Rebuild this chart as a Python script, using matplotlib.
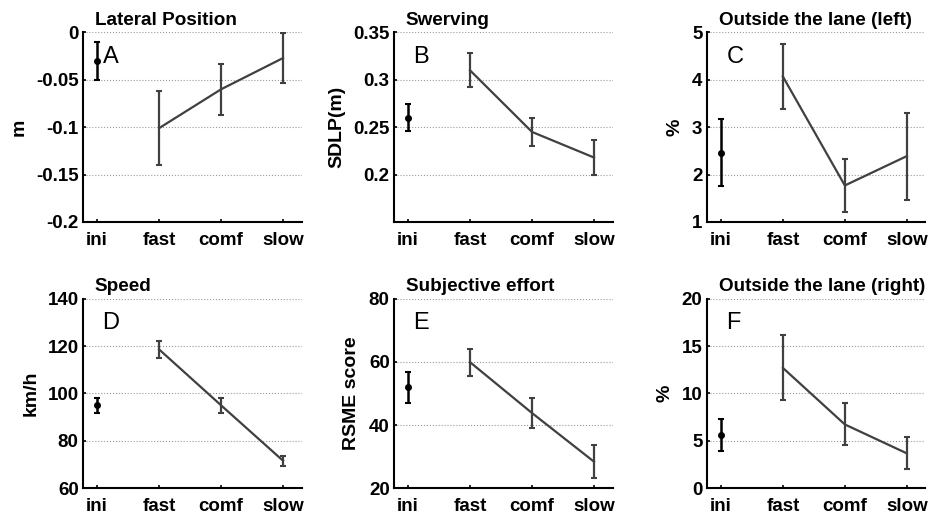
import matplotlib
matplotlib.use("Agg")
import matplotlib.pyplot as plt

plt.rcParams['font.family'] = ['Liberation Sans', 'DejaVu Sans']

# conditions
conds = ['ini', 'fast', 'comf', 'slow']

# A - lateral position (m)
lat_mean = [-0.030, -0.101, -0.060, -0.027]
lat_err = [0.020, 0.039, 0.027, 0.026]
# B - swerving SDLP (m)
sdlp_mean = [0.260, 0.310, 0.245, 0.218]
sdlp_err = [0.0145, 0.018, 0.0145, 0.0187]
# C - outside the lane left (%)
left_mean = [2.46, 4.07, 1.77, 2.39]
left_err = [0.71, 0.69, 0.56, 0.92]
# D - speed (km/h)
speed_mean = [95.0, 118.6, 95.0, 71.6]
speed_err = [3.1, 3.7, 3.1, 2.1]
# E - subjective effort (RSME)
rsme_mean = [52.0, 59.9, 43.8, 28.4]
rsme_err = [4.9, 4.25, 4.8, 5.3]
# F - outside the lane right (%)
right_mean = [5.64, 12.7, 6.73, 3.68]
right_err = [1.7, 3.43, 2.22, 1.7]

panels = [
    ('Lateral Position', 'A', 'm', lat_mean, lat_err, (-0.2, 0), [-0.2, -0.15, -0.1, -0.05, 0], ['-0.2', '-0.15', '-0.1', '-0.05', '0']),
    ('Swerving', 'B', 'SDLP(m)', sdlp_mean, sdlp_err, (0.15, 0.35), [0.2, 0.25, 0.3, 0.35], ['0.2', '0.25', '0.3', '0.35']),
    ('Outside the lane (left)', 'C', '%', left_mean, left_err, (1, 5), [1, 2, 3, 4, 5], ['1', '2', '3', '4', '5']),
    ('Speed', 'D', 'km/h', speed_mean, speed_err, (60, 140), [60, 80, 100, 120, 140], ['60', '80', '100', '120', '140']),
    ('Subjective effort', 'E', 'RSME score', rsme_mean, rsme_err, (20, 80), [20, 40, 60, 80], ['20', '40', '60', '80']),
    ('Outside the lane (right)', 'F', '%', right_mean, right_err, (0, 20), [0, 5, 10, 15, 20], ['0', '5', '10', '15', '20']),
]

fig = plt.figure(figsize=(9.31, 5.15), dpi=100)
lefts = [0.089, 0.423, 0.759]
bottoms = [0.569, 0.052]
w, h = 0.235, 0.368

line_col = '#404040'
x = [1, 2, 3, 4]

for i, (title, letter, ylab, m, e, ylim, yt, ytl) in enumerate(panels):
    ax = fig.add_axes([lefts[i % 3], bottoms[i // 3], w, h])
    # ini point on its own, in black
    ax.errorbar(x[0], m[0], yerr=e[0], fmt='o', color='black', ms=4,
                elinewidth=1.8, capsize=2.5, capthick=1.5)
    # the three speed conditions joined by a line
    ax.errorbar(x[1:], m[1:], yerr=e[1:], fmt='-', color=line_col, lw=1.6,
                elinewidth=1.6, capsize=2.5, capthick=1.5)
    ax.set_xlim(0.77, 4.3)
    ax.set_ylim(*ylim)
    ax.set_xticks(x)
    ax.set_xticklabels(conds)
    ax.set_yticks(yt)
    ax.set_yticklabels(ytl)
    ax.yaxis.grid(True, linestyle=':', color='#999999', lw=0.8)
    ax.set_axisbelow(True)
    for s in ['top', 'right']:
        ax.spines[s].set_visible(False)
    for s in ['left', 'bottom']:
        ax.spines[s].set_linewidth(1.5)
    ax.tick_params(axis='both', direction='in', length=2, width=1.2,
                   labelsize=13.5)
    ax.tick_params(axis='x', pad=7)
    ax.tick_params(axis='y', pad=3)
    for lbl in ax.get_xticklabels() + ax.get_yticklabels():
        lbl.set_fontweight('bold')
    ax.set_ylabel(ylab, fontsize=14, fontweight='bold', labelpad=6)
    ax.text(0.055, 1.018, title, transform=ax.transAxes, fontsize=13.6,
            fontweight='bold', ha='left', va='bottom')
    ax.text(0.09, 0.87, letter, transform=ax.transAxes, fontsize=17,
            ha='left', va='center')

fig.savefig('out.png', dpi=100)
